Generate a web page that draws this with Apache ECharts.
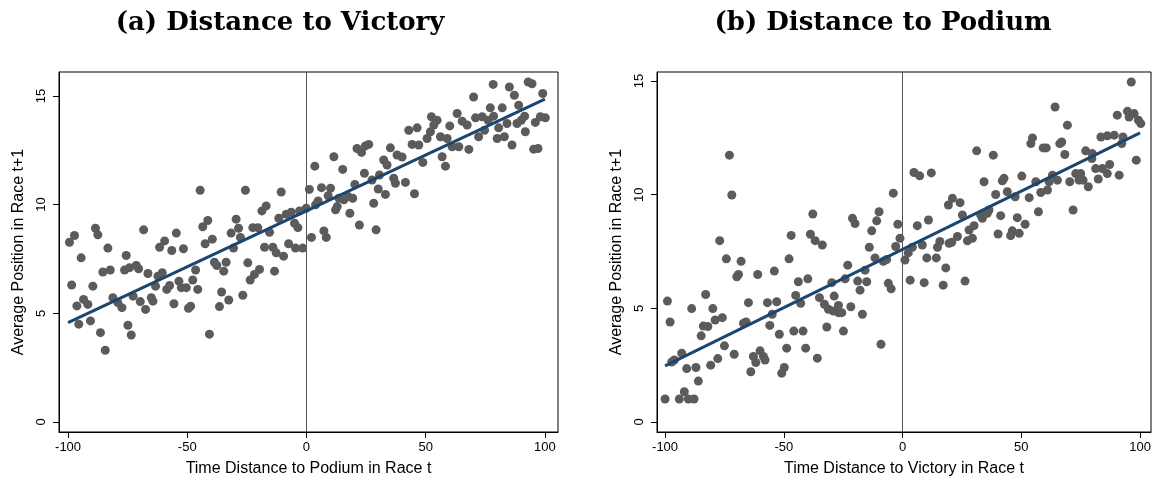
<!DOCTYPE html>
<html><head><meta charset="utf-8">
<script src="https://cdn.jsdelivr.net/npm/echarts@6/dist/echarts.min.js"></script>
<style>html,body{margin:0;padding:0;background:#fff}#c{width:1161px;height:482px}</style>
</head><body><div id="c"></div>
<script>
// Panel (a): Distance to Victory
var aX = [-44.6,-25.6,-10.6,-16.9,-18.7,-41.4,-43.5,-29.5,-28.5,-31.6,-27.7,-22.5,-20.4,-15.5,-11.6,-8.5,-6.4,-2.9,-0.1,-5.0,-3.6,-7.5,-17.6,-14.1,-4.6,-1.6,-42.5,-39.5,-54.6,-59.5,-61.6,-56.5,-51.6,-68.3,-88.5,-87.5,-97.3,-99.4,-83.3,-30.6,
-94.5,-75.6,-85.4,-82.3,-76.3,-74.2,-71.4,-70.4,-66.5,-62.3,-60.5,-63.3,-98.5,-89.6,-53.5,-57.4,-58.6,-52.5,-50.4,-47.7,-46.5,-45.6,-38.6,-37.6,-33.7,-34.7,-24.6,-19.7,-21.8,-23.6,-13.4,-12.7,-9.6,-35.6,-32.6,-36.5,-26.7,-48.6,-49.5,-55.6,-65.1,-64.4,-67.5,-69.7,-72.7,-81.2,-79.1,-77.4,-93.5,-91.7,-96.3,-95.5,-90.6,-86.4,-74.9,-73.5,-84.4,-40.7,
3.5,11.5,15.2,21.2,23.1,24.7,26.1,35.2,32.4,33.8,38.0,40.1,42.9,46.4,44.3,47.1,48.8,50.6,52.0,53.4,54.8,52.4,56.2,56.9,58.3,59.0,61.1,63.9,60.1,63.2,65.3,67.4,68.1,70.1,70.9,73.7,76.2,72.2,74.7,77.1,78.5,78.3,80.0,83.0,80.6,84.1,82.1,85.1,87.2,86.2,89.0,88.3,90.1,91.5,91.8,93.0,94.6,95.3,97.1,96.0,98.1,100.2,99.1,
1.2,6.3,10.1,9.1,4.9,3.8,13.6,15.7,17.5,19.4,12.9,12.2,20.3,24.3,27.5,30.6,30.1,33.1,36.6,37.3,41.5,45.3,28.2,18.2,22.2,29.2,7.3,8.3,2.1];
var aY = [10.66,10.66,10.58,9.94,9.71,9.27,8.98,9.33,8.91,8.69,8.49,8.94,8.94,8.73,9.37,9.56,9.65,9.71,9.83,9.14,8.94,8.2,8.04,8.04,8.0,8.0,8.2,8.41,8.69,8.33,8.04,7.89,7.97,8.84,8.91,8.61,8.58,8.27,8.0,8.0,
7.55,7.66,6.9,6.99,6.99,7.1,7.2,7.05,6.83,6.71,6.87,6.25,6.30,6.25,6.48,6.28,6.10,6.18,6.18,6.53,6.99,6.10,7.35,7.20,7.35,6.94,7.32,7.02,6.79,6.53,6.94,7.78,7.63,5.98,5.61,5.31,5.83,5.33,5.23,5.44,5.72,5.56,5.18,5.54,5.79,5.72,5.49,5.26,5.64,5.41,5.34,4.50,4.65,4.11,4.45,4.0,3.30,4.04,
11.77,12.2,11.62,12.58,12.4,12.7,12.77,12.61,12.05,11.82,12.28,12.19,13.42,13.53,12.77,12.74,11.94,13.04,13.35,13.66,13.88,14.04,13.12,12.2,11.77,13.04,12.66,12.66,13.62,14.19,13.84,13.66,12.54,14.95,13.99,14.04,13.88,13.12,13.42,14.45,14.07,15.53,13.04,13.12,13.53,13.73,14.45,15.41,15.03,12.74,14.57,13.73,13.88,14.07,13.35,15.64,15.56,12.55,12.58,13.78,14.04,13.99,15.11,
10.7,10.78,10.75,10.41,10.17,9.99,10.29,10.22,10.37,10.29,9.91,9.76,10.93,11.44,11.13,11.36,10.72,10.47,11.21,10.98,11.02,10.5,10.06,9.6,9.06,8.84,8.79,8.49,8.49];
var aFitX = [-100, 100];
var aFitY = [4.57, 14.85];

// Panel (b): Distance to Podium
var bX = [-72.9,-71.9,-77.0,-46.9,-37.8,-38.8,-36.8,-33.8,-21.1,-20.0,-9.9,-10.9,-13.0,-3.9,-2.0,-1.1,-14.0,-2.9,
96.3,64.2,69.4,90.4,94.7,97.5,95.4,99.3,100.3,83.5,86.2,89.1,92.8,92.3,54.7,54.0,59.2,60.5,67.0,66.2,68.3,31.2,38.2,77.1,79.9,79.7,98.4,87.2,84.1,81.3,86.2,91.2,82.4,4.8,7.2,12.1,34.3,42.7,42.0,50.2,56.1,63.1,61.7,65.2,70.4,72.9,75.0,74.3,76.0,78.2,39.2,44.1,47.4,53.3,58.2,61.0,21.0,19.3,24.2,25.2,32.9,35.7,36.4,33.6,41.3,48.3,57.2,71.8,51.6,10.9,6.2,30.1,28.0,40.2,46.2,45.5,49.1,23.1,20.7,19.6,27.3,29.4,15.7,14.7,8.3,4.1,
-74.2,-68.0,-47.8,-69.1,-69.8,-61.0,-54.0,-43.9,-39.9,-23.1,-15.8,-11.6,-8.1,-6.7,1.0,-29.8,-24.2,-18.9,-15.1,-17.9,-6.0,-4.8,-99.0,-97.9,-88.8,-82.9,-79.9,-78.9,-75.9,-83.9,-82.0,-84.8,-64.9,-56.9,-53.0,-54.9,-45.0,-42.9,-67.0,-65.9,-55.9,-51.9,-45.8,-41.9,-35.0,-32.9,-31.2,-29.1,-27.0,-25.6,-27.0,-28.8,-21.8,-16.9,-31.9,-24.9,-75.0,-70.9,-93.0,-96.1,-97.2,-90.9,-87.0,-80.8,-77.8,-86.0,-91.9,-100,-94.0,-90.2,-87.8,-62.8,-61.8,-60.0,-58.6,-57.9,-63.9,-49.8,-50.9,-48.8,-40.8,-35.9,-9.1,
2.4,10.2,14.2,18.2,3.2,9.1,17.1,26.3];
var bY = [11.74,9.99,7.98,8.21,9.15,8.26,7.98,7.79,8.96,8.73,9.25,8.85,8.41,10.07,8.70,8.08,7.69,7.72,
14.96,13.86,13.06,13.5,13.67,13.57,13.42,13.28,13.13,12.54,12.59,12.62,12.54,12.25,12.5,12.25,12.06,12.06,12.32,12.25,11.77,11.93,11.74,11.93,11.81,11.59,11.52,11.33,11.15,11.15,10.93,10.86,10.69,10.98,10.83,10.96,10.57,10.72,10.61,10.82,10.57,10.86,10.57,10.64,10.57,10.93,10.93,10.64,10.64,10.35,10.01,10.13,9.91,9.87,10.1,10.21,9.84,9.55,9.65,9.11,9.11,9.18,9.33,8.96,9.08,8.99,9.25,9.33,8.70,8.89,8.64,8.64,8.45,8.27,8.41,8.2,8.30,8.16,7.91,7.86,7.97,8.08,7.94,7.69,7.79,7.69,
7.18,7.07,7.18,6.49,6.39,6.49,6.64,6.17,6.3,6.9,6.68,7.22,7.07,7.15,7.13,6.13,6.3,6.2,6.17,5.8,6.1,5.86,5.32,4.40,4.99,5.61,4.99,4.49,4.59,4.22,4.2,3.79,5.25,5.25,5.29,4.74,5.57,5.22,4.34,4.40,4.25,3.86,4.0,4.0,5.47,5.18,4.96,4.88,4.81,4.81,5.13,5.54,5.07,4.74,4.18,4.0,3.35,2.98,3.03,2.73,2.64,2.35,2.4,2.5,2.79,1.8,1.33,1.01,1.01,1.01,1.01,2.88,2.62,3.13,2.88,2.73,2.21,2.4,2.15,3.25,3.25,2.81,3.42,
7.44,7.22,7.22,6.78,6.24,6.13,6.02,6.2];
var bFitX = [-100, 100];
var bFitY = [2.47, 12.72];

var xTicks = [-100, -50, 0, 50, 100];
var yTicks = [0, 5, 10, 15];
var titles = ['(a) Distance to Victory', '(b) Distance to Podium'];
var xNames = ['Time Distance to Podium in Race t', 'Time Distance to Victory in Race t'];
var yName = 'Average Position in Race t+1';

function zip(xs, ys){ var o=[]; for (var i=0;i<xs.length;i++) o.push([xs[i], ys[i]]); return o; }

var DOT = '#5b5b5b', FIT = '#1a476f';
var sans = 'Liberation Sans, Arial, sans-serif';

function xAxis(idx, min, max){
  return {type:'value', gridIndex:idx, min:min, max:max,
    name:xNames[idx], nameLocation:'middle', nameGap:29,
    nameTextStyle:{fontFamily:sans, fontSize:16, color:'#000'},
    axisLine:{show:true, onZero:false, lineStyle:{color:'#000', width:1}},
    axisTick:{show:true, length:6, customValues:xTicks, lineStyle:{color:'#000'}},
    axisLabel:{customValues:xTicks, margin:9, fontFamily:sans, fontSize:13, color:'#000'},
    splitLine:{show:false}};
}
function yAxis(idx, min, max){
  return {type:'value', gridIndex:idx, min:min, max:max,
    name:yName, nameLocation:'middle', nameGap:32,
    nameTextStyle:{fontFamily:sans, fontSize:16, color:'#000'},
    axisLine:{show:true, onZero:false, lineStyle:{color:'#000', width:1}},
    axisTick:{show:true, length:6, customValues:yTicks, lineStyle:{color:'#000'}},
    axisLabel:{customValues:yTicks, rotate:90, margin:11, fontFamily:sans, fontSize:13, color:'#000'},
    splitLine:{show:false}};
}
function scatter(idx, xs, ys){
  return {type:'scatter', xAxisIndex:idx, yAxisIndex:idx, data:zip(xs, ys),
    symbolSize:9, itemStyle:{color:DOT, opacity:1}, silent:true, z:2,
    markLine:{silent:true, symbol:['none','none'], label:{show:false},
      lineStyle:{color:'#555', width:1, type:'solid'}, data:[{xAxis:0}], z:1}};
}
function fit(idx, xs, ys){
  return {type:'line', xAxisIndex:idx, yAxisIndex:idx, data:zip(xs, ys),
    showSymbol:false, lineStyle:{color:FIT, width:3}, silent:true, z:3};
}

var chart = echarts.init(document.getElementById('c'), null, {renderer:'canvas'});
chart.setOption({
  animation:false,
  backgroundColor:'#fff',
  title:[
    {text:titles[0], left:275, top:5, textAlign:'center',
     textStyle:{fontFamily:'DejaVu Serif, serif', fontWeight:'bold', fontSize:26, color:'#000'}},
    {text:titles[1], left:878, top:5, textAlign:'center',
     textStyle:{fontFamily:'DejaVu Serif, serif', fontWeight:'bold', fontSize:26, color:'#000'}}
  ],
  grid:[
    {left:59, right:603, top:72, bottom:49, show:true, borderColor:'#000', borderWidth:1, backgroundColor:'#fff'},
    {left:657, right:10, top:72, bottom:49, show:true, borderColor:'#000', borderWidth:1, backgroundColor:'#fff'}
  ],
  xAxis:[xAxis(0, -103.8, 105.5), xAxis(1, -103.4, 104.6)],
  yAxis:[yAxis(0, -0.46, 16.1), yAxis(1, -0.44, 15.4)],
  series:[scatter(0, aX, aY), fit(0, aFitX, aFitY), scatter(1, bX, bY), fit(1, bFitX, bFitY)]
});
</script></body></html>
